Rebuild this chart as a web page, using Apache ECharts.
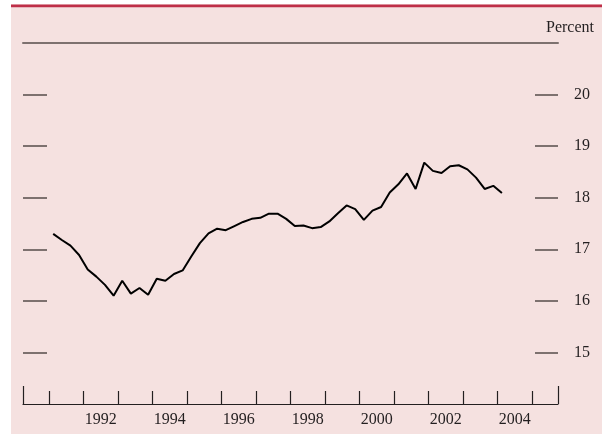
<!DOCTYPE html>
<html>
<head>
<meta charset="utf-8">
<script src="https://cdn.jsdelivr.net/npm/echarts@6/dist/echarts.min.js"></script>
<style>
  html, body { margin: 0; padding: 0; background: #fff; }
  #chart { width: 602px; height: 434px; }
</style>
</head>
<body>
<div id="chart"></div>
<script>
// quarterly observations, 1991:Q1 - 2004:Q1
const quarters = [
  '1991Q1', '1991Q2', '1991Q3', '1991Q4',
  '1992Q1', '1992Q2', '1992Q3', '1992Q4',
  '1993Q1', '1993Q2', '1993Q3', '1993Q4',
  '1994Q1', '1994Q2', '1994Q3', '1994Q4',
  '1995Q1', '1995Q2', '1995Q3', '1995Q4',
  '1996Q1', '1996Q2', '1996Q3', '1996Q4',
  '1997Q1', '1997Q2', '1997Q3', '1997Q4',
  '1998Q1', '1998Q2', '1998Q3', '1998Q4',
  '1999Q1', '1999Q2', '1999Q3', '1999Q4',
  '2000Q1', '2000Q2', '2000Q3', '2000Q4',
  '2001Q1', '2001Q2', '2001Q3', '2001Q4',
  '2002Q1', '2002Q2', '2002Q3', '2002Q4',
  '2003Q1', '2003Q2', '2003Q3', '2003Q4',
  '2004Q1'
]
const percent = [
  17.30, 17.18, 17.07, 16.89,
  16.61, 16.47, 16.31, 16.10,
  16.39, 16.14, 16.25, 16.12,
  16.43, 16.39, 16.52, 16.59,
  16.86, 17.12, 17.31, 17.40,
  17.37, 17.45, 17.53, 17.59,
  17.61, 17.69, 17.69, 17.59,
  17.45, 17.46, 17.41, 17.43,
  17.54, 17.70, 17.85, 17.78,
  17.57, 17.75, 17.82, 18.10,
  18.26, 18.47, 18.17, 18.68,
  18.52, 18.48, 18.61, 18.63,
  18.55, 18.39, 18.17, 18.23,
  18.09
]
const yTicks = [15, 16, 17, 18, 19, 20]
const yearTicks = [1991, 1992, 1993, 1994, 1995, 1996, 1997, 1998, 1999, 2000, 2001, 2002, 2003, 2004, 2005]
const yearLabels = [1992, 1994, 1996, 1998, 2000, 2002, 2004]

const FONT = "'Liberation Serif', 'Times New Roman', serif"
const INK = '#231f20'
const GREY = '#7d716f'

// quarter label -> mid-quarter decimal date
function toDate(q) {
  const y = Number(q.slice(0, 4))
  const n = Number(q.slice(5))
  return y + (n - 0.5) / 4
}
const seriesData = quarters.map((q, i) => [toDate(q), percent[i]])

const chart = echarts.init(document.getElementById('chart'))
const option = {
  animation: false,
  backgroundColor: '#ffffff',
  textStyle: { fontFamily: FONT },
  graphic: [
    { type: 'rect', z: -10, shape: { x: 11, y: 4.5, width: 591, height: 430 }, style: { fill: '#f5e1e0' } },
    { type: 'rect', z: -9, shape: { x: 11, y: 4.5, width: 591, height: 2.8 }, style: { fill: '#be2f48' } },
    {
      type: 'text', right: 8, top: 20,
      style: { text: 'Percent', font: '16px ' + FONT, fill: INK }
    }
  ],
  grid: { left: 23, right: 44, top: 43, bottom: 30 },
  xAxis: [
    {
      type: 'value', position: 'bottom', min: 1990.25, max: 2005.75,
      axisLine: { show: true, lineStyle: { color: INK, width: 1.2 } },
      axisTick: { show: true, inside: true, length: 13, customValues: yearTicks, lineStyle: { color: INK, width: 1.2 } },
      axisLabel: {
        show: true, customValues: yearLabels.map(y => y + 0.5), margin: 8,
        formatter: v => String(Math.floor(v)), color: INK, fontSize: 16, fontFamily: FONT
      },
      splitLine: { show: false }
    },
    {
      type: 'value', position: 'bottom', min: 1990.25, max: 2005.75,
      axisLine: { show: false },
      axisTick: { show: true, inside: true, length: 18, customValues: [1990.25, 2005.75], lineStyle: { color: INK, width: 1.2 } },
      axisLabel: { show: false },
      splitLine: { show: false }
    },
    {
      type: 'value', position: 'top', min: 1990.25, max: 2005.75,
      axisLine: { show: true, lineStyle: { color: GREY, width: 2 } },
      axisTick: { show: false },
      axisLabel: { show: false },
      splitLine: { show: false }
    }
  ],
  yAxis: [
    {
      type: 'value', position: 'right', min: 14, max: 21,
      axisLine: { show: false },
      axisTick: { show: true, inside: true, length: 23, customValues: yTicks, lineStyle: { color: GREY, width: 2 } },
      axisLabel: { show: true, customValues: yTicks, margin: 16, color: INK, fontSize: 16, fontFamily: FONT },
      splitLine: { show: false }
    },
    {
      type: 'value', position: 'left', min: 14, max: 21,
      axisLine: { show: false },
      axisTick: { show: true, inside: true, length: 24, customValues: yTicks, lineStyle: { color: GREY, width: 2 } },
      axisLabel: { show: false },
      splitLine: { show: false }
    }
  ],
  series: [
    {
      name: 'Percent',
      type: 'line',
      xAxisIndex: 0,
      yAxisIndex: 0,
      data: seriesData,
      showSymbol: false,
      lineStyle: { color: '#000000', width: 2 }
    }
  ]
}
chart.setOption(option)
</script>
</body>
</html>
